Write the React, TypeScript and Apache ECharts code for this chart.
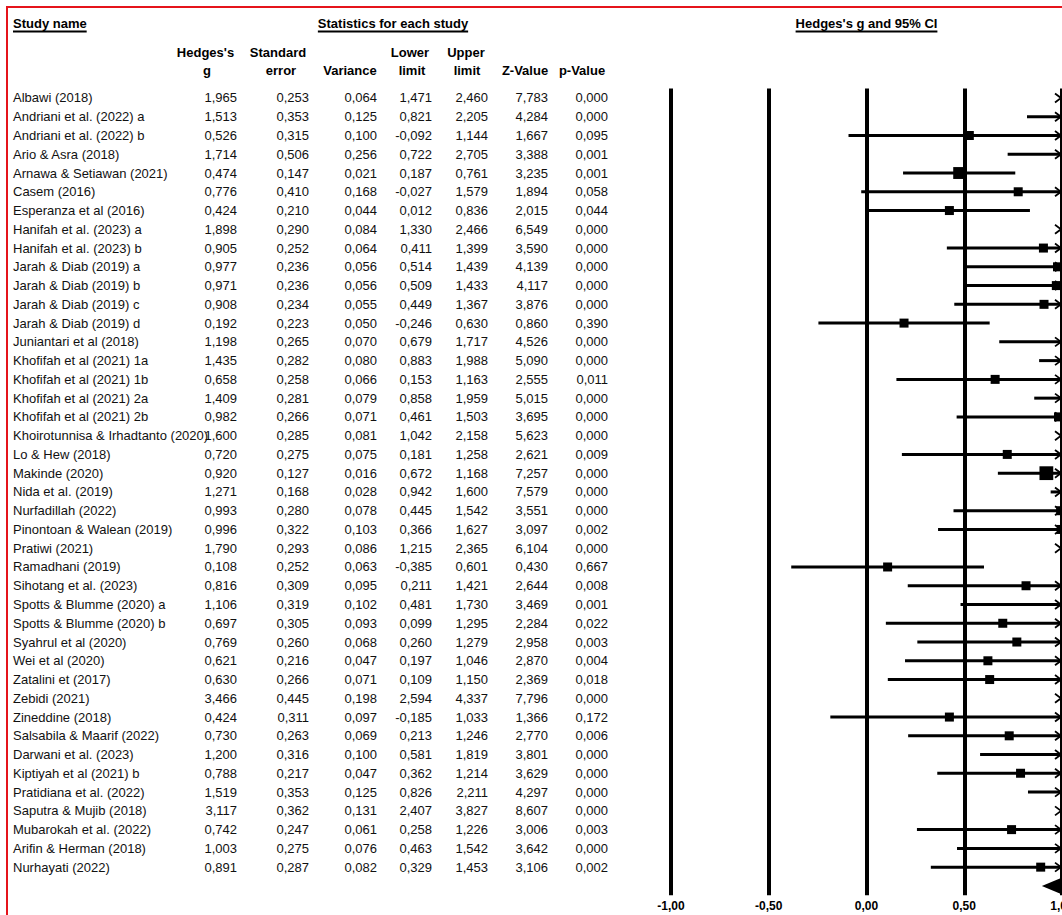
import React, { useEffect, useRef } from "react";
import * as echarts from "echarts";

const STUDY_NAMES = [
  "Albawi (2018)",
  "Andriani et al. (2022) a",
  "Andriani et al. (2022) b",
  "Ario & Asra (2018)",
  "Arnawa & Setiawan (2021)",
  "Casem (2016)",
  "Esperanza et al (2016)",
  "Hanifah et al. (2023) a",
  "Hanifah et al. (2023) b",
  "Jarah & Diab (2019) a",
  "Jarah & Diab (2019) b",
  "Jarah & Diab (2019) c",
  "Jarah & Diab (2019) d",
  "Juniantari et al (2018)",
  "Khofifah et al (2021) 1a",
  "Khofifah et al (2021) 1b",
  "Khofifah et al (2021) 2a",
  "Khofifah et al (2021) 2b",
  "Khoirotunnisa & Irhadtanto (2020)",
  "Lo & Hew (2018)",
  "Makinde (2020)",
  "Nida et al. (2019)",
  "Nurfadillah (2022)",
  "Pinontoan & Walean (2019)",
  "Pratiwi (2021)",
  "Ramadhani (2019)",
  "Sihotang et al. (2023)",
  "Spotts & Blumme (2020) a",
  "Spotts & Blumme (2020) b",
  "Syahrul et al (2020)",
  "Wei et al (2020)",
  "Zatalini et (2017)",
  "Zebidi (2021)",
  "Zineddine (2018)",
  "Salsabila & Maarif (2022)",
  "Darwani et al. (2023)",
  "Kiptiyah et al (2021) b",
  "Pratidiana et al. (2022)",
  "Saputra & Mujib (2018)",
  "Mubarokah et al. (2022)",
  "Arifin & Herman (2018)",
  "Nurhayati (2022)",
];

const HEDGES_G = [
  1.965, 1.513, 0.526, 1.714, 0.474, 0.776, 0.424, 1.898, 0.905, 0.977, 0.971,
  0.908, 0.192, 1.198, 1.435, 0.658, 1.409, 0.982, 1.6, 0.72, 0.92, 1.271,
  0.993, 0.996, 1.79, 0.108, 0.816, 1.106, 0.697, 0.769, 0.621, 0.63, 3.466,
  0.424, 0.73, 1.2, 0.788, 1.519, 3.117, 0.742, 1.003, 0.891,
];

const STD_ERROR = [
  0.253, 0.353, 0.315, 0.506, 0.147, 0.41, 0.21, 0.29, 0.252, 0.236, 0.236,
  0.234, 0.223, 0.265, 0.282, 0.258, 0.281, 0.266, 0.285, 0.275, 0.127, 0.168,
  0.28, 0.322, 0.293, 0.252, 0.309, 0.319, 0.305, 0.26, 0.216, 0.266, 0.445,
  0.311, 0.263, 0.316, 0.217, 0.353, 0.362, 0.247, 0.275, 0.287,
];

const VARIANCE = [
  0.064, 0.125, 0.1, 0.256, 0.021, 0.168, 0.044, 0.084, 0.064, 0.056, 0.056,
  0.055, 0.05, 0.07, 0.08, 0.066, 0.079, 0.071, 0.081, 0.075, 0.016, 0.028,
  0.078, 0.103, 0.086, 0.063, 0.095, 0.102, 0.093, 0.068, 0.047, 0.071, 0.198,
  0.097, 0.069, 0.1, 0.047, 0.125, 0.131, 0.061, 0.076, 0.082,
];

const LOWER_LIMIT = [
  1.471, 0.821, -0.092, 0.722, 0.187, -0.027, 0.012, 1.33, 0.411, 0.514, 0.509,
  0.449, -0.246, 0.679, 0.883, 0.153, 0.858, 0.461, 1.042, 0.181, 0.672, 0.942,
  0.445, 0.366, 1.215, -0.385, 0.211, 0.481, 0.099, 0.26, 0.197, 0.109, 2.594,
  -0.185, 0.213, 0.581, 0.362, 0.826, 2.407, 0.258, 0.463, 0.329,
];

const UPPER_LIMIT = [
  2.46, 2.205, 1.144, 2.705, 0.761, 1.579, 0.836, 2.466, 1.399, 1.439, 1.433,
  1.367, 0.63, 1.717, 1.988, 1.163, 1.959, 1.503, 2.158, 1.258, 1.168, 1.6,
  1.542, 1.627, 2.365, 0.601, 1.421, 1.73, 1.295, 1.279, 1.046, 1.15, 4.337,
  1.033, 1.246, 1.819, 1.214, 2.211, 3.827, 1.226, 1.542, 1.453,
];

const Z_VALUE = [
  7.783, 4.284, 1.667, 3.388, 3.235, 1.894, 2.015, 6.549, 3.59, 4.139, 4.117,
  3.876, 0.86, 4.526, 5.09, 2.555, 5.015, 3.695, 5.623, 2.621, 7.257, 7.579,
  3.551, 3.097, 6.104, 0.43, 2.644, 3.469, 2.284, 2.958, 2.87, 2.369, 7.796,
  1.366, 2.77, 3.801, 3.629, 4.297, 8.607, 3.006, 3.642, 3.106,
];

const P_VALUE = [
  0.0, 0.0, 0.095, 0.001, 0.001, 0.058, 0.044, 0.0, 0.0, 0.0, 0.0, 0.0, 0.39,
  0.0, 0.0, 0.011, 0.0, 0.0, 0.0, 0.009, 0.0, 0.0, 0.0, 0.002, 0.0, 0.667,
  0.008, 0.001, 0.022, 0.003, 0.004, 0.018, 0.0, 0.172, 0.006, 0.0, 0.0, 0.0,
  0.0, 0.003, 0.0, 0.002,
];

// Summary (overall) effect, read from the diamond at the bottom
const SUMMARY_G = 0.995;
const SUMMARY_LOWER = 0.897;
const SUMMARY_UPPER = 1.093;

const AXIS_TICKS = [-1, -0.5, 0, 0.5, 1];

const HEADER_TITLES = ["Study name", "Statistics for each study", "Hedges's g and 95% CI"];
const COLUMN_HEADERS = [
  ["Hedges's", "g"],
  ["Standard", "error"],
  ["", "Variance"],
  ["Lower", "limit"],
  ["Upper", "limit"],
  ["", "Z-Value"],
  ["", "p-Value"],
];

// ---------- layout (positions / styles) ----------
const FONT_FAMILY = "Arial, 'Liberation Sans', sans-serif";
const GRID_TOP = 88.6;
const ROW_H = 18.76;
const N_ROWS = STUDY_NAMES.length + 1;
const GRID_H = ROW_H * N_ROWS;
const COLUMN_RIGHT = [237, 309, 377, 432, 488, 548, 608];
const COLUMN_HEADER_CENTER = [
  [205.5, 207],
  [278, 281],
  [350, 350],
  [410, 412],
  [466, 467],
  [525, 525],
  [582, 582],
];
const TITLE_POS = [
  { x: 13, align: "left" },
  { x: 393, align: "center" },
  { x: 866.5, align: "center" },
];

const fmt3 = (v: number) => v.toFixed(3).replace(".", ",");
const fmt2 = (v: number) => v.toFixed(2).replace(".", ",");

function measure(text: string, font: string): number {
  const c = document.createElement("canvas");
  const ctx = c.getContext("2d");
  if (!ctx) return text.length * 7;
  ctx.font = font;
  return ctx.measureText(text).width;
}

export default function App() {
  const ref = useRef<HTMLDivElement>(null);

  useEffect(() => {
    if (!ref.current) return;
    const chart = echarts.init(ref.current, undefined, { renderer: "svg" });

    const TABLE_COLUMNS = [HEDGES_G, STD_ERROR, VARIANCE, LOWER_LIMIT, UPPER_LIMIT, Z_VALUE, P_VALUE];
    const rowKeys = [...STUDY_NAMES, "Summary"];

    const boldFont = `bold 13px ${FONT_FAMILY}`;
    const graphics: any[] = [];
    // frame
    graphics.push({
      type: "rect",
      shape: { x: 7, y: 7, width: 1300, height: 1300 },
      style: { fill: "none", stroke: "#e5141b", lineWidth: 2 },
      z: 10,
    });
    HEADER_TITLES.forEach((t, i) => {
      const p = TITLE_POS[i];
      const w = measure(t, boldFont);
      const x0 = p.align === "left" ? p.x : p.x - w / 2;
      graphics.push({
        type: "text",
        x: p.x,
        y: 23,
        style: {
          text: t,
          font: boldFont,
          fill: "#000",
          textAlign: p.align,
          textVerticalAlign: "middle",
        },
      });
      graphics.push({
        type: "line",
        shape: { x1: x0, y1: 31.5, x2: x0 + w, y2: 31.5 },
        style: { stroke: "#000", lineWidth: 2 },
      });
    });
    COLUMN_HEADERS.forEach((lines, i) => {
      lines.forEach((t, j) => {
        if (!t) return;
        graphics.push({
          type: "text",
          x: COLUMN_HEADER_CENTER[i][j],
          y: j === 0 ? 52 : 70,
          style: {
            text: t,
            font: boldFont,
            fill: "#000",
            textAlign: "center",
            textVerticalAlign: "middle",
          },
        });
      });
    });

    const yAxisBase = {
      type: "category",
      data: rowKeys,
      inverse: true,
      show: false,
    };

    const option: any = {
      animation: false,
      backgroundColor: "#fff",
      grid: [
        { left: 0, top: GRID_TOP, width: 640, height: GRID_H, outerBoundsMode: "none", containLabel: false },
        { left: 671, top: GRID_TOP, width: 391, height: GRID_H, outerBoundsMode: "none", containLabel: false },
      ],
      xAxis: [
        { type: "value", gridIndex: 0, min: 0, max: 640, show: false },
        {
          type: "value",
          gridIndex: 1,
          min: AXIS_TICKS[0],
          max: AXIS_TICKS[AXIS_TICKS.length - 1],
          interval: 0.5,
          axisLine: { show: false },
          axisTick: { show: false },
          splitLine: { show: true, lineStyle: { color: "#000", width: 4 } },
          axisLabel: {
            margin: 5,
            formatter: (v: number) => fmt2(v),
            color: "#000",
            fontWeight: "bold",
            fontSize: 12,
            fontFamily: FONT_FAMILY,
          },
        },
      ],
      yAxis: [
        { ...yAxisBase, gridIndex: 0 },
        { ...yAxisBase, gridIndex: 1 },
      ],
      graphic: { elements: graphics },
      series: [
        {
          type: "custom",
          name: "table",
          xAxisIndex: 0,
          yAxisIndex: 0,
          data: STUDY_NAMES.map((_, i) => [0, i]),
          renderItem: (params: any, api: any) => {
            const i = params.dataIndex;
            const y = api.coord([0, i])[1];
            const font = `13px ${FONT_FAMILY}`;
            const children: any[] = [
              {
                type: "text",
                x: 13,
                y,
                style: {
                  text: STUDY_NAMES[i],
                  font,
                  fill: "#111",
                  textAlign: "left",
                  textVerticalAlign: "middle",
                },
              },
            ];
            TABLE_COLUMNS.forEach((col, c) => {
              children.push({
                type: "text",
                x: COLUMN_RIGHT[c],
                y,
                style: {
                  text: fmt3(col[i]),
                  font,
                  fill: "#111",
                  textAlign: "right",
                  textVerticalAlign: "middle",
                },
              });
            });
            return { type: "group", children };
          },
        },
        {
          type: "custom",
          name: "forest",
          xAxisIndex: 1,
          yAxisIndex: 1,
          data: STUDY_NAMES.map((_, i) => [HEDGES_G[i], i, LOWER_LIMIT[i], UPPER_LIMIT[i], STD_ERROR[i]]),
          renderItem: (params: any, api: any) => {
            const g = api.value(0);
            const i = api.value(1);
            const lo = api.value(2);
            const hi = api.value(3);
            const se = api.value(4);
            const yc = api.coord([0, i])[1];
            const xMin = api.coord([-1, i])[0];
            const xMax = api.coord([1, i])[0];
            const children: any[] = [];
            if (lo < 1 && hi > -1) {
              const xl = api.coord([Math.max(lo, -1), i])[0];
              const xu = api.coord([Math.min(hi, 1), i])[0];
              children.push({
                type: "line",
                shape: { x1: xl, y1: yc, x2: Math.min(xu, xMax - 1), y2: yc },
                style: { stroke: "#000", lineWidth: 3 },
              });
            }
            if (g >= -1 && g <= 1) {
              const xg = api.coord([g, i])[0];
              const s = Math.max(9, 1.75 / se);
              children.push({
                type: "rect",
                shape: { x: xg - s / 2, y: yc - s / 2, width: s, height: s },
                style: { fill: "#000" },
              });
            }
            if (hi > 1) {
              const xe = xMax - 1;
              children.push({
                type: "polyline",
                shape: { points: [[xe - 6, yc - 4.5], [xe, yc], [xe - 6, yc + 4.5]] },
                style: { stroke: "#000", lineWidth: 1.8, fill: "none" },
              });
            }
            if (lo < -1) {
              const xs = xMin + 1;
              children.push({
                type: "polyline",
                shape: { points: [[xs + 6, yc - 4.5], [xs, yc], [xs + 6, yc + 4.5]] },
                style: { stroke: "#000", lineWidth: 1.8, fill: "none" },
              });
            }
            return { type: "group", children };
          },
        },
        {
          type: "custom",
          name: "summary",
          xAxisIndex: 1,
          yAxisIndex: 1,
          data: [[SUMMARY_G, STUDY_NAMES.length, SUMMARY_LOWER, SUMMARY_UPPER]],
          renderItem: (params: any, api: any) => {
            const i = api.value(1);
            const yc = api.coord([0, i])[1];
            const xg = api.coord([api.value(0), i])[0];
            const xl = api.coord([api.value(2), i])[0];
            const xu = api.coord([api.value(3), i])[0];
            return {
              type: "polygon",
              shape: { points: [[xl, yc], [xg, yc - 8], [xu, yc], [xg, yc + 8]] },
              style: { fill: "#000" },
            };
          },
        },
      ],
    };

    chart.setOption(option);
    return () => chart.dispose();
  }, []);

  return (
    <div
      ref={ref}
      style={{ position: "absolute", left: 0, top: 0, width: 1062, height: 915, background: "#fff" }}
    />
  );
}
